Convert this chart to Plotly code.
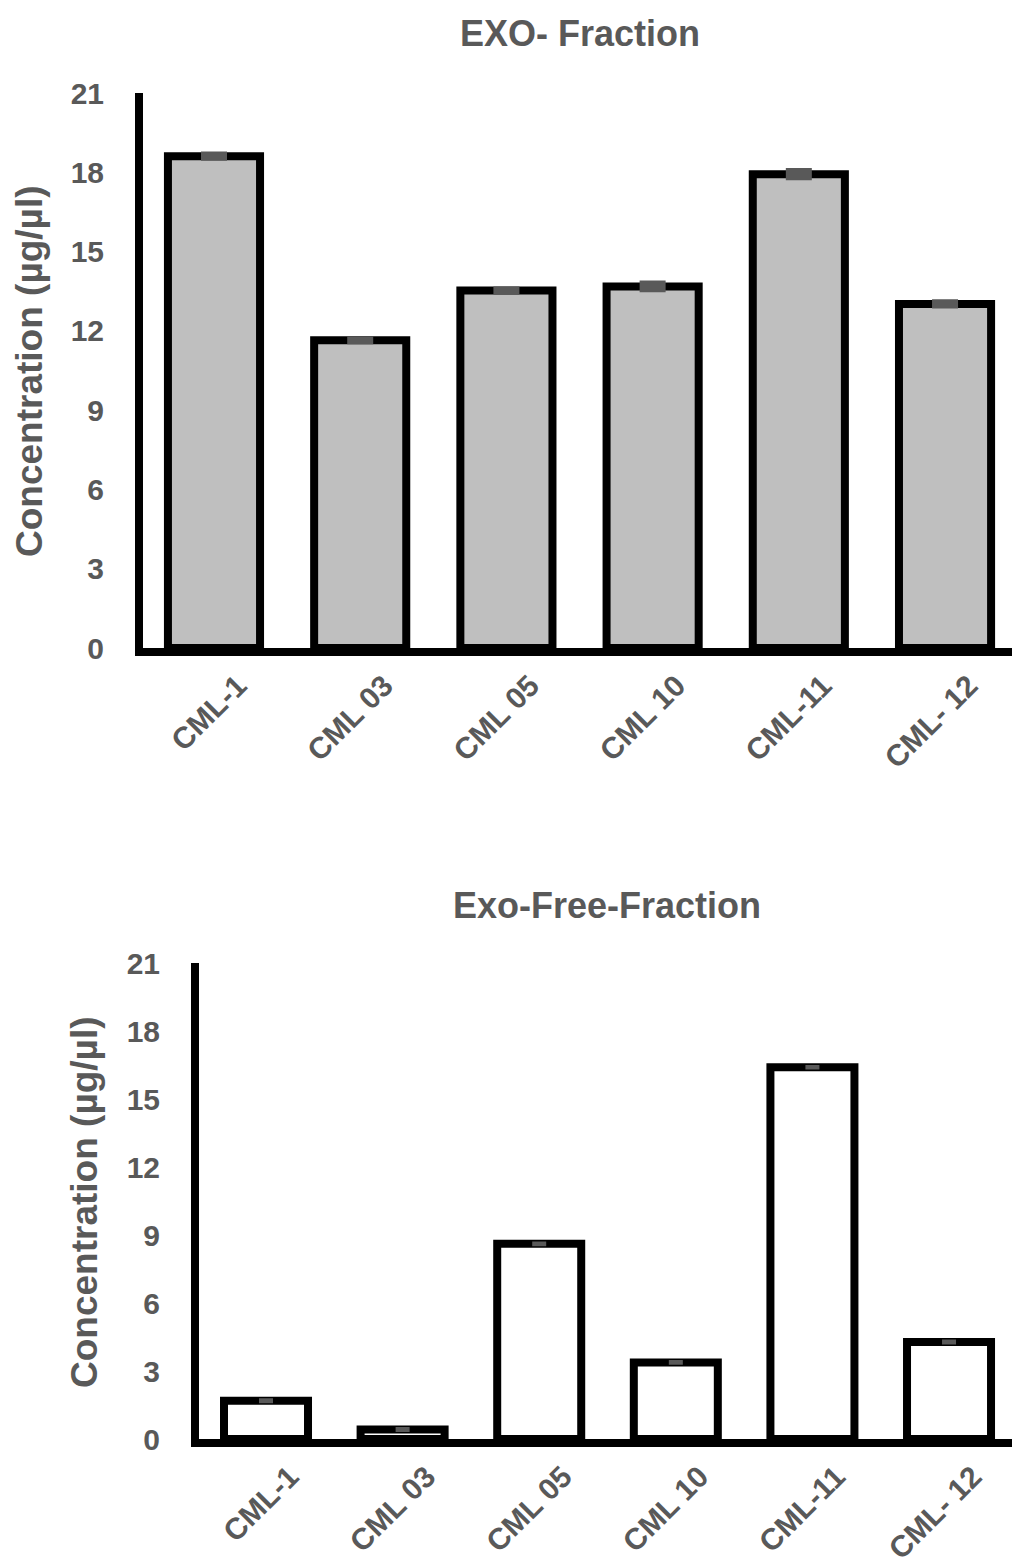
import plotly.graph_objects as go

W, H = 1012, 1564

categories = ["CML-1", "CML 03", "CML 05", "CML 10", "CML-11", "CML- 12"]

exo_values = [18.61, 11.64, 13.53, 13.68, 17.93, 13.02]
exo_errors = [0.04, 0.01, 0.02, 0.09, 0.10, 0.04]

free_values = [1.69, 0.42, 8.61, 3.38, 16.40, 4.28]
free_errors = [0.02, 0.02, 0.02, 0.02, 0.01, 0.02]

y_ticks = [0, 3, 6, 9, 12, 15, 18, 21]

GREY = "#595959"
FONT = "Liberation Sans, Arial, Helvetica, sans-serif"

fig = go.Figure()

fig.add_trace(go.Bar(
    x=categories, y=exo_values, width=0.63,
    marker=dict(color="#BFBFBF", line=dict(color="black", width=8)),
    error_y=dict(type="data", array=exo_errors, color=GREY, thickness=7, width=13),
    xaxis="x", yaxis="y", showlegend=False, hoverinfo="skip",
))

fig.add_trace(go.Bar(
    x=categories, y=free_values, width=0.615,
    marker=dict(color="white", line=dict(color="black", width=8)),
    error_y=dict(type="data", array=free_errors, color=GREY, thickness=4, width=7),
    xaxis="x2", yaxis="y2", showlegend=False, hoverinfo="skip",
))

def px_x(p):
    return p / W

def px_y(p):
    return 1 - p / H

tickfont = dict(family=FONT, size=30, color=GREY, weight="bold")

common_x = dict(
    type="category", showline=True, linecolor="black", linewidth=8,
    showgrid=False, zeroline=False, ticks="", tickangle=-45,
    tickfont=tickfont, automargin=False, fixedrange=True,
    ticklabelshift=24,
)
common_y = dict(
    range=[0, 21], tickvals=y_ticks, showline=True, linecolor="black",
    linewidth=8, showgrid=False, zeroline=False, ticks="",
    tickfont=tickfont, automargin=False, ticklabelstandoff=25, fixedrange=True,
)

title_font = dict(family=FONT, size=36, color=GREY, weight="bold")
ytitle_font = dict(family=FONT, size=37, color=GREY, weight="bold")

fig.update_layout(
    width=W, height=H,
    margin=dict(l=0, r=0, t=0, b=0),
    paper_bgcolor="white", plot_bgcolor="white",
    template="none",
    xaxis=dict(domain=[px_x(143), 1.0], range=[-0.4856, 5.458], anchor="y", **common_x),
    yaxis=dict(domain=[px_y(648), px_y(93)], anchor="x", **common_y),
    xaxis2=dict(domain=[px_x(199), 1.0], range=[-0.4905, 5.461], anchor="y2", **common_x),
    yaxis2=dict(domain=[px_y(1439), px_y(963)], anchor="x2", **common_y),
    annotations=[
        dict(text="EXO- Fraction", x=px_x(580), y=px_y(34), xref="paper", yref="paper",
             xanchor="center", yanchor="middle", showarrow=False, font=title_font),
        dict(text="Exo-Free-Fraction", x=px_x(607), y=px_y(905), xref="paper", yref="paper",
             xanchor="center", yanchor="middle", showarrow=False, font=title_font),
        dict(text="Concentration (µg/µl)", x=px_x(29), y=px_y(371), xref="paper", yref="paper",
             xanchor="center", yanchor="middle", showarrow=False, textangle=-90,
             font=ytitle_font),
        dict(text="Concentration (µg/µl)", x=px_x(84), y=px_y(1202), xref="paper", yref="paper",
             xanchor="center", yanchor="middle", showarrow=False, textangle=-90,
             font=ytitle_font),
    ],
)

fig.write_html(
    "out.html",
    config={"displayModeBar": False, "staticPlot": True},
    post_script="document.body.style.margin='0';document.body.style.overflow='hidden';",
)
